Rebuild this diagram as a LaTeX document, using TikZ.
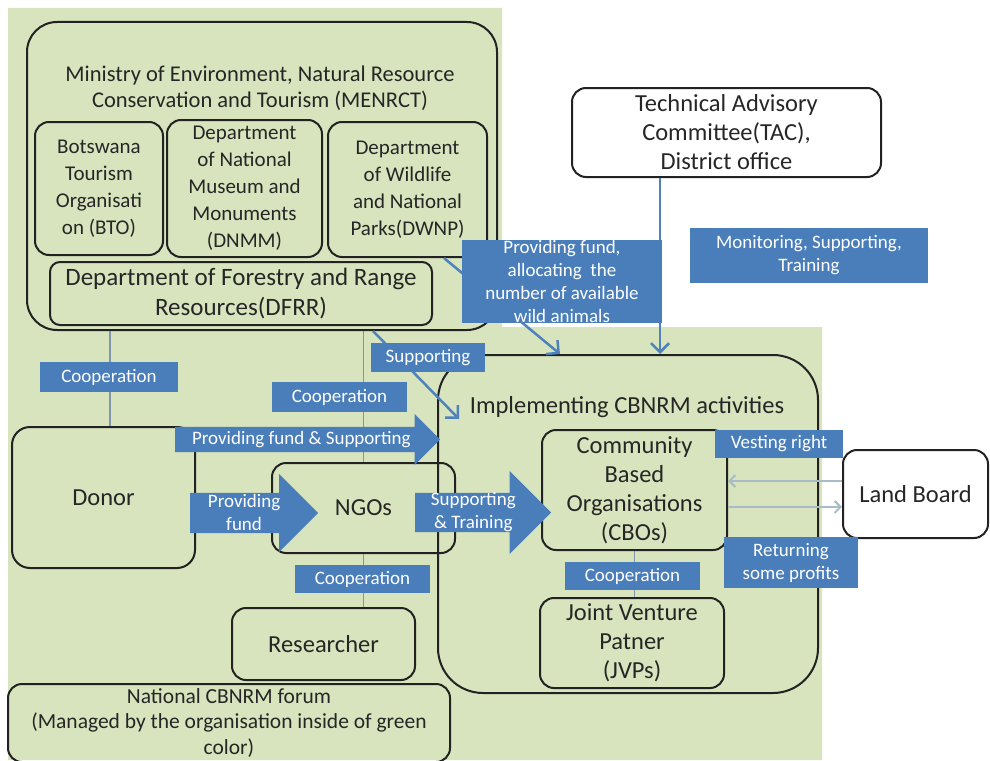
\documentclass[tikz,border=0pt]{standalone}
\usepackage{fontspec}
\setmainfont{Carlito}
\usetikzlibrary{shapes.arrows, arrows.meta}

\definecolor{bggreen}{HTML}{D7E4BD}
\definecolor{lblblue}{HTML}{4A7EBB}
\definecolor{lnblue}{HTML}{4F81BD}
\definecolor{coopgray}{HTML}{8096AD}
\definecolor{paleline}{HTML}{A7BCC6}
\definecolor{boxline}{HTML}{222222}

\tikzset{
	orgbox/.style={draw=boxline, line width=2pt, rounded corners=14pt, align=center, text=black!85, inner sep=2pt, font=\fontsize{24.5}{29}\selectfont},
	deptbox/.style={orgbox, font=\fontsize{21}{27}\selectfont},
	bluelbl/.style={fill=lblblue, text=white, align=center, inner sep=0pt, font=\fontsize{19}{23}\selectfont},
	blockarrow/.style={single arrow, anchor=tail, fill=lblblue, text=white, align=center, inner xsep=1pt, font=\fontsize{19}{23}\selectfont},
	coopline/.style={draw=coopgray, line width=1.5pt},
	flowline/.style={draw=lnblue, line width=2.5pt, ->},
	backline/.style={draw=paleline, line width=2pt, -{Straight Barb[length=6pt,width=12pt]}},
	>={Straight Barb[length=9pt,width=18pt]}
}

\begin{document}
\begin{tikzpicture}[x=1pt, y=-1pt]
	\useasboundingbox (0,0) rectangle (990,760);
	\clip (0,0) rectangle (990,760);
	\fill[bggreen] (8,8) -- (502,8) -- (502,327) -- (822,327) -- (822,760) -- (8,760) -- cycle;

	% ministry
	\node[orgbox, rounded corners=30pt, minimum width=470pt, minimum height=308pt] (menrct) at (262,176) {};
	\node[font=\fontsize{22.5}{26}\selectfont, align=center, text=black!85] (menrcttitle) at (260,88)
	{Ministry of Environment, Natural Resource\\Conservation and Tourism (MENRCT)};
	\node[deptbox, minimum width=128pt, minimum height=133pt] (bto) at (99,188.5) {Botswana\\Tourism\\Organisati\\on (BTO)};
	\node[deptbox, minimum width=155pt, minimum height=137pt] (dnmm) at (244.5,188.5) {Department\\of National\\Museum and\\Monuments\\(DNMM)};
	\node[deptbox, minimum width=159pt, minimum height=135pt] (dwnp) at (407.5,189.5) {Department\\of Wildlife\\and National\\Parks(DWNP)};
	\node[orgbox, rounded corners=10pt, minimum width=382pt, minimum height=63pt, font=\fontsize{25}{30}\selectfont] (dfrr) at (241,293.5) {Department of Forestry and Range\\Resources(DFRR)};

	\node[orgbox, fill=white, minimum width=309pt, minimum height=89pt] (tac) at (726.5,132.5) {Technical Advisory\\Committee(TAC),\\District office};

	% implementing
	\node[orgbox, rounded corners=45pt, minimum width=380pt, minimum height=338pt] (impl) at (628,524) {};
	\node[font=\fontsize{24.5}{29}\selectfont, text=black!85] (impltitle) at (627,407) {Implementing CBNRM activities};
	\node[orgbox, minimum width=185pt, minimum height=120pt] (cbo) at (634.5,490) {Community\\Based\\Organisations\\(CBOs)};
	\node[orgbox, minimum width=184pt, minimum height=90pt] (jvp) at (632,643) {Joint Venture\\Patner\\(JVPs)};
	\node[orgbox, fill=white, minimum width=145pt, minimum height=88pt] (land) at (915.5,494) {Land Board};

	\node[orgbox, rounded corners=18pt, minimum width=183pt, minimum height=141pt] (donor) at (103.5,497.5) {Donor};
	\node[orgbox, minimum width=183pt, minimum height=90pt] (ngo) at (363.5,508) {NGOs};
	\node[orgbox, minimum width=183pt, minimum height=72pt] (res) at (323.5,644) {Researcher};
	\node[orgbox, minimum width=442pt, minimum height=78pt, font=\fontsize{21.5}{25.5}\selectfont] (forum) at (229,723)
	{National CBNRM forum\\(Managed by the organisation inside of green\\color)};

	% connectors
	\draw[flowline] ([xshift=-66.5pt]tac.south) -- ([xshift=32pt]impl.north);
	\draw[flowline] (dwnp.-62) -- ([xshift=-68pt]impl.north);
	\draw[flowline] ([xshift=111pt]menrct.south) -- ([xshift=22pt,yshift=-65pt]impl.north west);
	\draw[coopline]
	([xshift=6.5pt]donor.north |- menrct.south) -- ([xshift=6.5pt]donor.north)
	(ngo.north |- menrct.south) -- (ngo.north)
	(ngo.south) -- (ngo.south |- res.north)
	(cbo.south) -- (cbo.south |- jvp.north)
	;
	\draw[backline] (land.170) -- (land.170 -| cbo.east);
	\draw[backline] (land.190 -| cbo.east) -- (land.190);

	% labels
	\node[bluelbl, minimum width=200pt, minimum height=83pt] (fundlbl) at (562,281.5) {Providing fund,\\allocating\ \ the\\number of available\\wild animals};
	\node[bluelbl, minimum width=238pt, minimum height=55pt] (monlbl) at (809,255.5) {Monitoring, Supporting,\\Training};
	\node[bluelbl, minimum width=114pt, minimum height=29pt] (suplbl) at (428,357.5) {Supporting};
	\node[bluelbl, minimum width=138pt, minimum height=30pt] (coop1) at (109,377) {Cooperation};
	\node[bluelbl, minimum width=135pt, minimum height=30pt] (coop2) at (339.5,397) {Cooperation};
	\node[bluelbl, minimum width=135pt, minimum height=28pt] (coop3) at (362.5,579) {Cooperation};
	\node[bluelbl, minimum width=135pt, minimum height=28pt] (coop4) at (632.5,576) {Cooperation};
	\node[bluelbl, minimum width=128pt, minimum height=28pt] (vestlbl) at (779,444) {Vesting right};
	\node[bluelbl, minimum width=134pt, minimum height=51pt] (retlbl) at (791,562.5) {Returning\\some profits};

	% block arrows
	\node[blockarrow, minimum height=265pt, single arrow head extend=13pt, text height=14pt, text depth=5pt, inner ysep=3pt] (fundsup) at (175,439.5) {Providing fund \& Supporting};
	\node[blockarrow, minimum height=128pt, single arrow head extend=19pt, text height=37pt, text depth=3pt, inner ysep=0pt] (fundarr) at (190,513) {Providing\\fund};
	\node[blockarrow, minimum height=136pt, single arrow head extend=22pt, text height=35.5pt, text depth=3.5pt, inner ysep=0pt] (suptrain) at (415,512.5) {Supporting\\\& Training};
\end{tikzpicture}
\end{document}
